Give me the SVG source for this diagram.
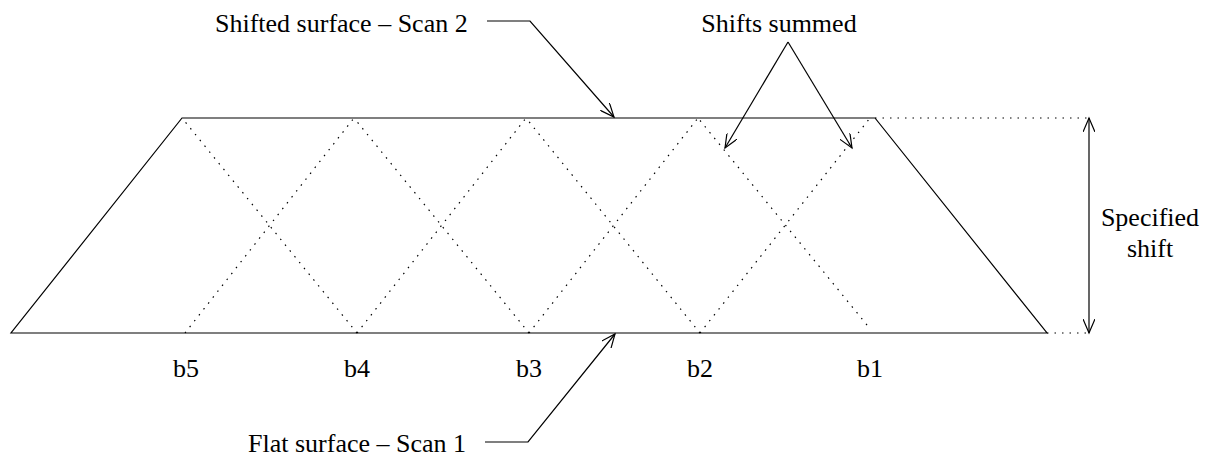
<svg xmlns="http://www.w3.org/2000/svg" width="1209" height="457" viewBox="0 0 1209 457">
<style>
.s{fill:none;stroke:#000;stroke-width:1.2}
.d{fill:none;stroke:#000;stroke-width:1.2;stroke-dasharray:1.5 6}
.t{font-family:"Liberation Serif",serif;font-size:26px;fill:#000}
</style>
<defs>
<marker id="a" markerWidth="16" markerHeight="12" refX="14" refY="6" orient="auto" markerUnits="userSpaceOnUse">
<path d="M0,0 L14,6 L0,12" fill="none" stroke="#000" stroke-width="1.2"/>
</marker>
<marker id="b" markerWidth="16" markerHeight="12" refX="2" refY="6" orient="auto" markerUnits="userSpaceOnUse">
<path d="M16,0 L2,6 L16,12" fill="none" stroke="#000" stroke-width="1.2"/>
</marker>
</defs>
<g id="shape">
<path class="s" d="M11,333 L1047,333 L875,118 L182,118 Z"/>
</g>
<g id="grid">
<path class="d" d="M185,333 L354,118 M357,333 L182,118 M357,333 L526,118 M529,333 L354,118 M529,333 L698,118 M700,333 L526,118 M700,333 L870,118 M867,325 L698,118"/>
<path class="d" d="M875,118 L1089,118 M1047,333 L1089,333"/>
</g>
<g id="labels-b">
<text class="t" x="186" y="377" text-anchor="middle">b5</text>
<text class="t" x="357" y="377" text-anchor="middle">b4</text>
<text class="t" x="529" y="377" text-anchor="middle">b3</text>
<text class="t" x="700" y="377" text-anchor="middle">b2</text>
<text class="t" x="870" y="377" text-anchor="middle">b1</text>
</g>
<g id="node-shifted">
<text class="t" x="215" y="32">Shifted surface – Scan 2</text>
</g>
<g id="node-summed">
<text class="t" x="779" y="32" text-anchor="middle">Shifts summed</text>
</g>
<g id="node-specified">
<text class="t" x="1150" y="226" text-anchor="middle">Specified</text>
<text class="t" x="1150" y="257" text-anchor="middle">shift</text>
</g>
<g id="node-flat">
<text class="t" x="248" y="452">Flat surface – Scan 1</text>
</g>
<g id="connectors">
<path class="s" d="M487,21 L530,21 L614,117" marker-end="url(#a)"/>
<path class="s" d="M788,42 L725,148" marker-end="url(#a)"/>
<path class="s" d="M788,42 L852,148" marker-end="url(#a)"/>
<path class="s" d="M1089,118 L1089,333" marker-start="url(#b)" marker-end="url(#a)"/>
<path class="s" d="M485,442 L528,442 L615,334" marker-end="url(#a)"/>
</g>
</svg>
